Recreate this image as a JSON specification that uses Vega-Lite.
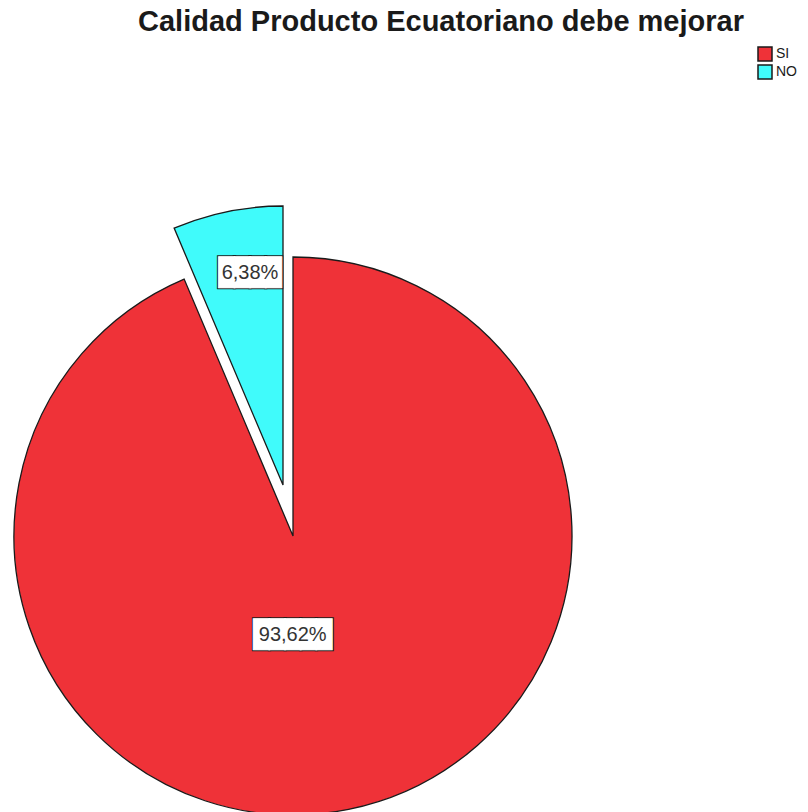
{
  "$schema": "https://vega.github.io/schema/vega-lite/v6.json",
  "width": 586,
  "height": 972,
  "autosize": {"type": "none"},
  "padding": {"left": 0, "top": 50, "right": 222, "bottom": 0},
  "background": "white",
  "title": {
    "text": "Calidad Producto Ecuatoriano debe mejorar",
    "font": "Liberation Sans",
    "fontSize": 29,
    "fontWeight": "bold",
    "color": "#1a1a1a",
    "anchor": "middle",
    "dx": 148,
    "offset": 9
  },
  "data": {
    "values": [
      {"cat": "SI", "pct": 93.62, "label": "93,62%"},
      {"cat": "NO", "pct": 6.38, "label": "6,38%"}
    ]
  },
  "encoding": {
    "theta": {"field": "pct", "type": "quantitative", "stack": true},
    "order": {"field": "pct", "type": "quantitative", "sort": "descending"}
  },
  "layer": [
    {
      "mark": {"type": "arc", "outerRadius": 279, "stroke": "#1a1a1a", "strokeWidth": 1.3},
      "encoding": {
        "color": {
          "field": "cat", "type": "nominal",
          "scale": {"domain": ["SI", "NO"], "range": ["#ef3238", "#40fbfb"]},
          "legend": {
            "title": null,
            "orient": "none",
            "legendX": 757,
            "legendY": -4,
            "padding": 0,
            "symbolType": "square",
            "symbolSize": 196,
            "symbolStrokeColor": "#1a1a1a",
            "symbolStrokeWidth": 1.5,
            "symbolOpacity": 1,
            "labelFont": "Liberation Sans",
            "labelFontSize": 14,
            "labelColor": "#1a1a1a",
            "labelOffset": 3,
            "rowPadding": -4
          }
        },
        "opacity": {"condition": {"test": "datum.cat === 'SI'", "value": 1}, "value": 0}
      }
    },
    {
      "mark": {"type": "arc", "outerRadius": 279, "stroke": "#1a1a1a", "strokeWidth": 1.3, "xOffset": -10, "yOffset": -51},
      "encoding": {
        "color": {"field": "cat", "type": "nominal"},
        "opacity": {"condition": {"test": "datum.cat === 'NO'", "value": 1}, "value": 0}
      }
    },
    {
      "mark": {"type": "text", "text": "█████", "font": "DejaVu Sans Mono", "fontSize": 26, "radius": 99, "dx": -20, "dy": 2, "fill": "#1a1a1a", "stroke": "#1a1a1a", "strokeWidth": 3, "baseline": "middle", "align": "center"},
      "encoding": {
        "opacity": {"condition": {"test": "datum.cat === 'SI'", "value": 1}, "value": 0}
      }
    },
    {
      "mark": {"type": "text", "text": "█████", "font": "DejaVu Sans Mono", "fontSize": 26, "radius": 99, "dx": -20, "dy": 2, "fill": "white", "stroke": "white", "strokeWidth": 1, "baseline": "middle", "align": "center"},
      "encoding": {
        "opacity": {"condition": {"test": "datum.cat === 'SI'", "value": 1}, "value": 0}
      }
    },
    {
      "mark": {"type": "text", "font": "Liberation Sans", "fontSize": 20, "radius": 99, "dx": -20, "dy": 2, "fill": "#333333", "baseline": "middle", "align": "center"},
      "encoding": {
        "text": {"field": "label"},
        "opacity": {"condition": {"test": "datum.cat === 'SI'", "value": 1}, "value": 0}
      }
    },
    {
      "mark": {"type": "text", "text": "████", "font": "DejaVu Sans Mono", "fontSize": 26, "radius": 266, "dx": 10, "dy": -2, "fill": "#1a1a1a", "stroke": "#1a1a1a", "strokeWidth": 3, "baseline": "middle", "align": "center"},
      "encoding": {
        "opacity": {"condition": {"test": "datum.cat === 'NO'", "value": 1}, "value": 0}
      }
    },
    {
      "mark": {"type": "text", "text": "████", "font": "DejaVu Sans Mono", "fontSize": 26, "radius": 266, "dx": 10, "dy": -2, "fill": "white", "stroke": "white", "strokeWidth": 1, "baseline": "middle", "align": "center"},
      "encoding": {
        "opacity": {"condition": {"test": "datum.cat === 'NO'", "value": 1}, "value": 0}
      }
    },
    {
      "mark": {"type": "text", "font": "Liberation Sans", "fontSize": 20, "radius": 266, "dx": 10, "dy": -2, "fill": "#333333", "baseline": "middle", "align": "center"},
      "encoding": {
        "text": {"field": "label"},
        "opacity": {"condition": {"test": "datum.cat === 'NO'", "value": 1}, "value": 0}
      }
    }
  ]
}
